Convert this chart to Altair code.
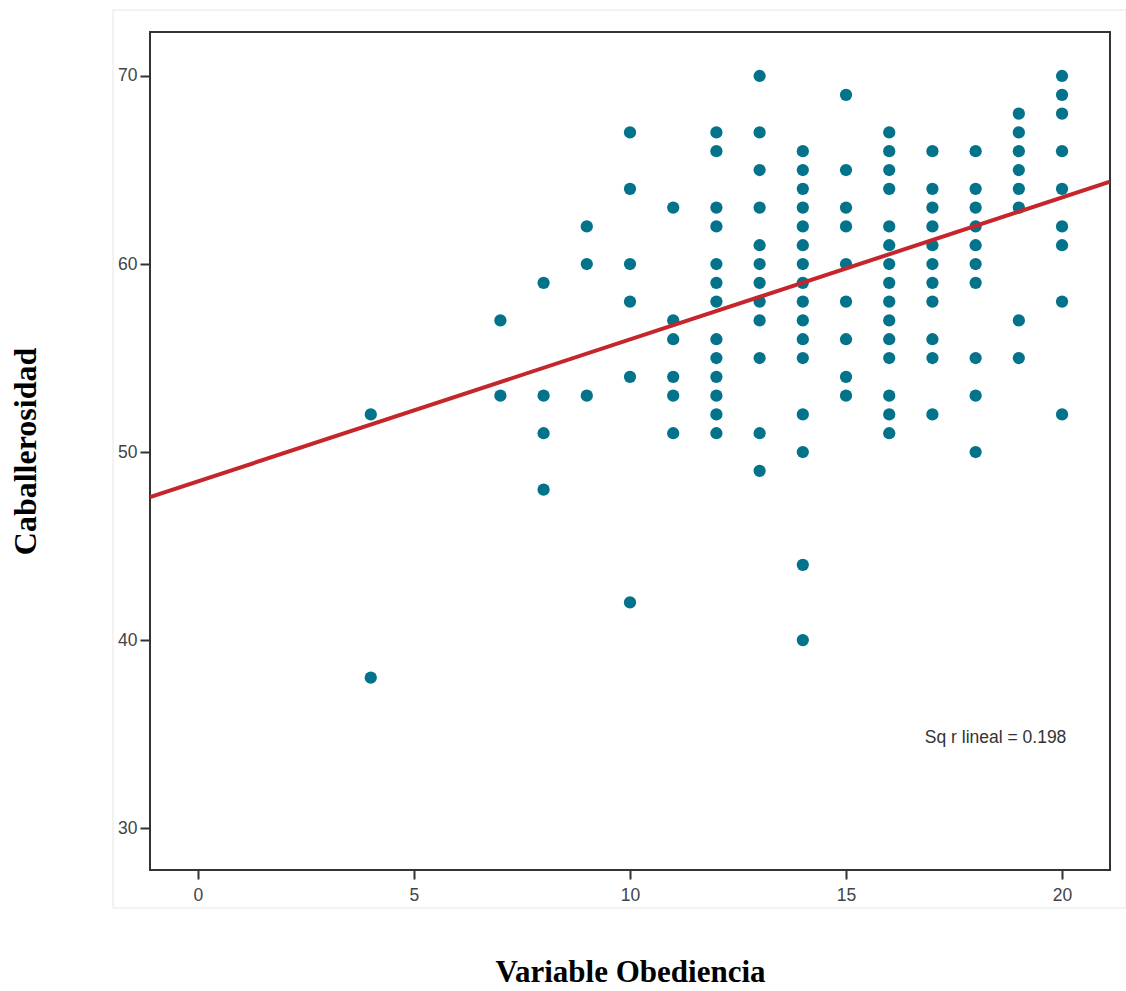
import altair as alt
import pandas as pd

# Caballerosidad values observed at each Obediencia score
obed_4 = [52, 38]
obed_7 = [57, 53]
obed_8 = [59, 53, 51, 48]
obed_9 = [62, 60, 53]
obed_10 = [67, 64, 60, 58, 54, 42]
obed_11 = [63, 57, 56, 54, 53, 51]
obed_12 = [67, 66, 63, 62, 60, 59, 58, 56, 55, 54, 53, 52, 51]
obed_13 = [70, 67, 65, 63, 61, 60, 59, 58, 57, 55, 51, 49]
obed_14 = [66, 65, 64, 63, 62, 61, 60, 59, 58, 57, 56, 55, 52, 50, 44, 40]
obed_15 = [69, 65, 63, 62, 60, 58, 56, 54, 53]
obed_16 = [67, 66, 65, 64, 62, 61, 60, 59, 58, 57, 56, 55, 53, 52, 51]
obed_17 = [66, 64, 63, 62, 61, 60, 59, 58, 56, 55, 52]
obed_18 = [66, 64, 63, 62, 61, 60, 59, 55, 53, 50]
obed_19 = [68, 67, 66, 65, 64, 63, 57, 55]
obed_20 = [70, 69, 68, 66, 64, 62, 61, 58, 52]

obed_scores = [4, 7, 8, 9, 10, 11, 12, 13, 14, 15, 16, 17, 18, 19, 20]
columns = [obed_4, obed_7, obed_8, obed_9, obed_10, obed_11, obed_12, obed_13,
           obed_14, obed_15, obed_16, obed_17, obed_18, obed_19, obed_20]

# Linear fit
fit_intercept = 48.44
fit_slope = 0.755
r2_label = "Sq r lineal = 0.198"

x_domain = [-1.11, 21.11]
y_domain = [27.77, 72.34]
x_ticks = [0, 5, 10, 15, 20]
y_ticks = [30, 40, 50, 60, 70]

rows = []
for xv, col in zip(obed_scores, columns):
    for yv in col:
        rows.append({"obediencia": xv, "caballerosidad": yv})
df = pd.DataFrame(rows)

line_df = pd.DataFrame({
    "obediencia": x_domain,
    "caballerosidad": [fit_intercept + fit_slope * v for v in x_domain],
})

ann_df = pd.DataFrame({"obediencia": [20.1], "caballerosidad": [34.8], "label": [r2_label]})

xscale = alt.Scale(domain=x_domain, nice=False, zero=False)
yscale = alt.Scale(domain=y_domain, nice=False, zero=False)

xaxis = alt.Axis(values=x_ticks, title="Variable Obediencia", grid=False, domain=False,
                 tickSize=9, tickWidth=2, tickColor="#333333", labelPadding=7,
                 labelFont="Liberation Sans", labelFontSize=17.5, labelColor="#444444",
                 titleFont="Liberation Serif", titleFontSize=31, titleFontWeight="bold",
                 titleColor="#000000", titlePadding=54)
yaxis = alt.Axis(values=y_ticks, title="Caballerosidad", grid=False, domain=False,
                 tickSize=10, tickWidth=2, tickColor="#333333", labelPadding=3,
                 labelFont="Liberation Sans", labelFontSize=17.5, labelColor="#444444",
                 titleFont="Liberation Serif", titleFontSize=32, titleFontWeight="bold",
                 titleColor="#000000", titlePadding=75)

points = alt.Chart(df).mark_circle(size=150, color="#03728b", opacity=1).encode(
    x=alt.X("obediencia:Q", scale=xscale, axis=xaxis),
    y=alt.Y("caballerosidad:Q", scale=yscale, axis=yaxis),
)

fit_line = alt.Chart(line_df).mark_line(color="#c4262b", strokeWidth=4, clip=True).encode(
    x=alt.X("obediencia:Q", scale=xscale),
    y=alt.Y("caballerosidad:Q", scale=yscale),
)

annot = alt.Chart(ann_df).mark_text(align="right", baseline="middle", font="Liberation Sans",
                                    fontSize=17.5, color="#333333").encode(
    x=alt.X("obediencia:Q", scale=xscale),
    y=alt.Y("caballerosidad:Q", scale=yscale),
    text="label:N",
)

outer = alt.Chart(pd.DataFrame({"a": [0]})).mark_rect(fill=None, stroke="#e6e6e6", strokeWidth=1).encode(
    x=alt.value(-37), x2=alt.value(976), y=alt.value(-22), y2=alt.value(876)
)

chart = alt.layer(outer, points, fit_line, annot).properties(
    width=960, height=838,
    autosize=alt.AutoSizeParams(type="none"),
    padding={"left": 150, "top": 32, "right": 16, "bottom": 121},
    background="white",
).configure_view(stroke="#333333", strokeWidth=2)

chart.save("out.html", embed_options={"renderer": "svg", "actions": False})
